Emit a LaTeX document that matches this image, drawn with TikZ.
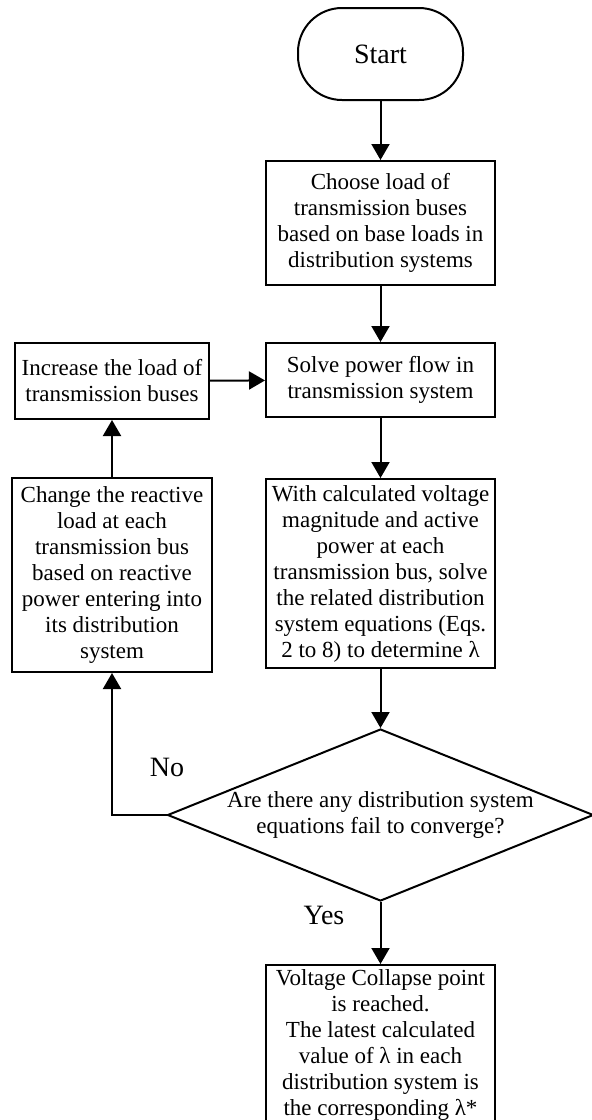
\documentclass[tikz,border=0pt]{standalone}
\usepackage{fontspec}
\setmainfont{Liberation Serif}
\usepackage{tikz}
\usetikzlibrary{arrows.meta}
\usetikzlibrary{shapes.geometric}
\tikzstyle{blk} = [rectangle, draw, line width=1pt, align=center, inner sep=0pt, font=\fontsize{11.5}{13}\selectfont]
\tikzstyle{go} = [-{Triangle[length=8pt, width=9pt]}, line width=1pt]
\tikzstyle{lbl} = [draw=none, font=\fontsize{14}{16}\selectfont]

\begin{document}
\begin{tikzpicture}[x=0.5pt, y=-0.5pt]
\useasboundingbox (0, 0) rectangle (591, 1120);
\node [blk, rounded corners=22pt, minimum width=82.5pt, minimum height=46pt, font=\fontsize{14}{16}\selectfont] (start) at (380.5, 54) {Start};
\node [blk, minimum width=114.5pt, minimum height=62pt] (choose) at (380.5, 223) {Choose load of\\transmission buses\\based on base loads in\\distribution systems};
\node [blk, minimum width=114.5pt, minimum height=37pt] (solve) at (380.5, 380) {Solve power flow in\\transmission system};
\node [blk, minimum width=114.5pt, minimum height=94.5pt] (calc) at (380.5, 573.5) {With calculated voltage\\magnitude and active\\power at each\\transmission bus, solve\\the related distribution\\system equations (Eqs.\\2 to 8) to determine λ};
\node [blk, minimum width=97pt, minimum height=38pt] (incr) at (112, 381) {Increase the load of\\transmission buses};
\node [blk, minimum width=100pt, minimum height=97pt] (change) at (112, 575) {Change the reactive\\load at each\\transmission bus\\based on reactive\\power entering into\\its distribution\\system};
\node [blk, shape=diamond, aspect=2.48, minimum width=213pt, minimum height=86pt] (fail) at (380.5, 815) {Are there any distribution system\\equations fail to converge?};
\node [blk, minimum width=114.5pt, minimum height=80pt] (collapse) at (380.5, 1045) {Voltage Collapse point\\is reached.\\The latest calculated\\value of λ in each\\distribution system is\\the corresponding λ*};
\draw [go] (start) to (choose);
\draw [go] (choose) to (solve);
\draw [go] (solve) to (calc);
\draw [go] (calc) to (fail);
\draw [go] (incr) to (solve);
\draw [go] (change) to (incr);
\draw [go] (fail.west) -| (change.south);
\draw [go] (fail) to (collapse);
\node [lbl] (no) at (167, 767) {No};
\node [lbl] (yes) at (324, 915) {Yes};
\end{tikzpicture}
\end{document}
